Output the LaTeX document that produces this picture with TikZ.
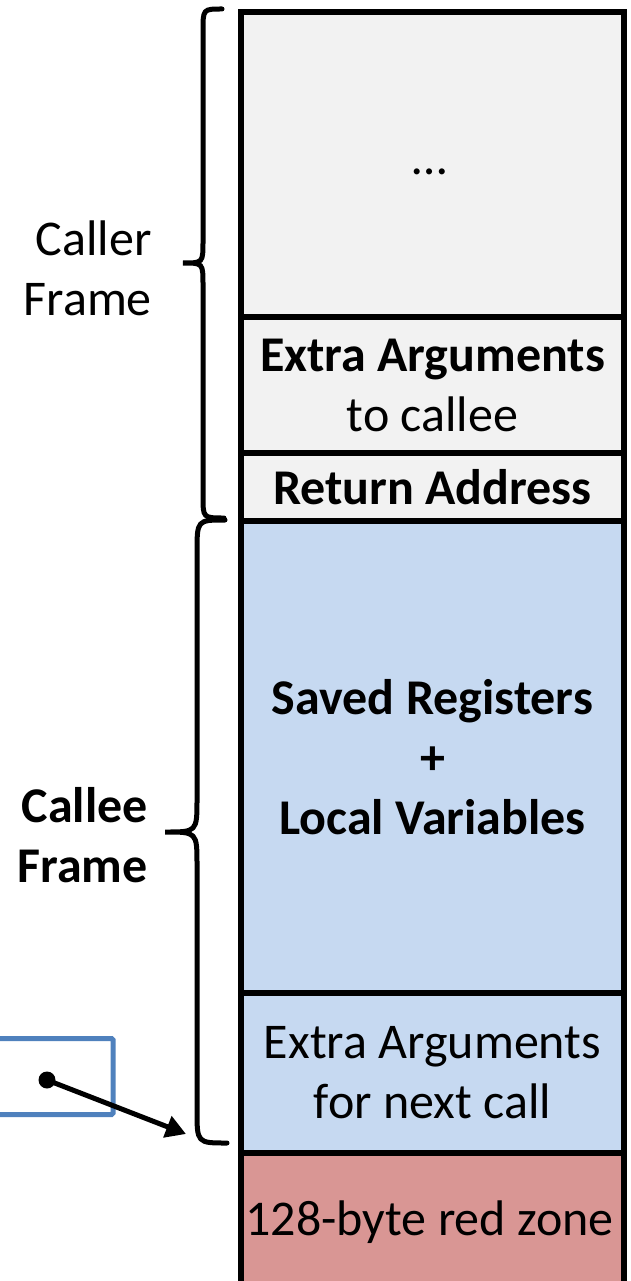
\documentclass[tikz,border=0pt]{standalone}
\usepackage{fontspec}
\setmainfont{Carlito}
\usetikzlibrary{arrows.meta}
\definecolor{cellgray}{HTML}{F2F2F2}
\definecolor{cellblue}{HTML}{C6D9F1}
\definecolor{cellred}{HTML}{D99694}
\definecolor{boxblue}{HTML}{4F81BD}
\begin{document}
\begin{tikzpicture}[x=1pt,y=-1pt,
  cell/.style={draw=black,line width=6pt,minimum width=383pt,inner sep=0pt,anchor=north west,font=\fontsize{50}{60}\selectfont,align=center},
  lbl/.style={font=\fontsize{50}{60}\selectfont,align=right,anchor=east,inner sep=0pt},
  brace/.style={draw=black,line width=5pt,line cap=round}]
\useasboundingbox (0,0) rectangle (631,1281);
\begin{scope}
\clip (0,0) rectangle (631,1281);
\node[cell,fill=cellred,minimum height=150pt] (red) at (238,1150) {};
\node[font=\fontsize{50}{60}\selectfont,inner sep=0pt] (redtxt) at (429.5,1222) {128-byte red zone};
\end{scope}
\node[cell,fill=cellgray,minimum height=305pt] (c1) at (238,9) {};
\node[font=\fontsize{50}{60}\selectfont,inner sep=0pt] (dots) at (429.5,172) {…};
\node[cell,fill=cellgray,minimum height=136pt] (c2) at (238,314) {\textbf{Extra Arguments}\\to callee};
\node[cell,fill=cellgray,minimum height=68pt] (c3) at (238,450) {\textbf{Return Address}};
\node[cell,fill=cellblue,minimum height=472pt] (c4) at (238,518) {\textbf{Saved Registers}\\\textbf{+}\\\textbf{Local Variables}};
\node[cell,fill=cellblue,minimum height=160pt] (c5) at (238,990) {Extra Arguments\\for next call};
% braces
\draw[brace] (222,9) .. controls (203,9) .. (203,31) -- (203,241) .. controls (203,263) .. (183,263) .. controls (203,263) .. (203,285) -- (203,496) .. controls (203,518) .. (224,518);
\draw[brace] (225,520) .. controls (197,520) .. (197,553) -- (197,799) .. controls (197,832) .. (165,832) .. controls (197,832) .. (197,865) -- (197,1110) .. controls (197,1143) .. (227,1143);
\node[lbl] (caller) at (152,268) {Caller\\Frame};
\node[lbl,font=\fontsize{50}{60}\selectfont\bfseries] (callee) at (148,835) {Callee\\Frame};
% blue box and arrow
\node[draw=boxblue,line width=5pt,rounded corners=1.5pt,minimum width=130pt,minimum height=76pt,inner sep=0pt] (spbox) at (48,1076.5) {};
\coordinate (dot) at (47,1080);
\coordinate (tip) at (186,1134);
\fill (dot) circle (8.5pt);
\draw[line width=5pt,-{Triangle[length=20pt,width=22pt]}] (dot) -- (tip);
\end{tikzpicture}
\end{document}
